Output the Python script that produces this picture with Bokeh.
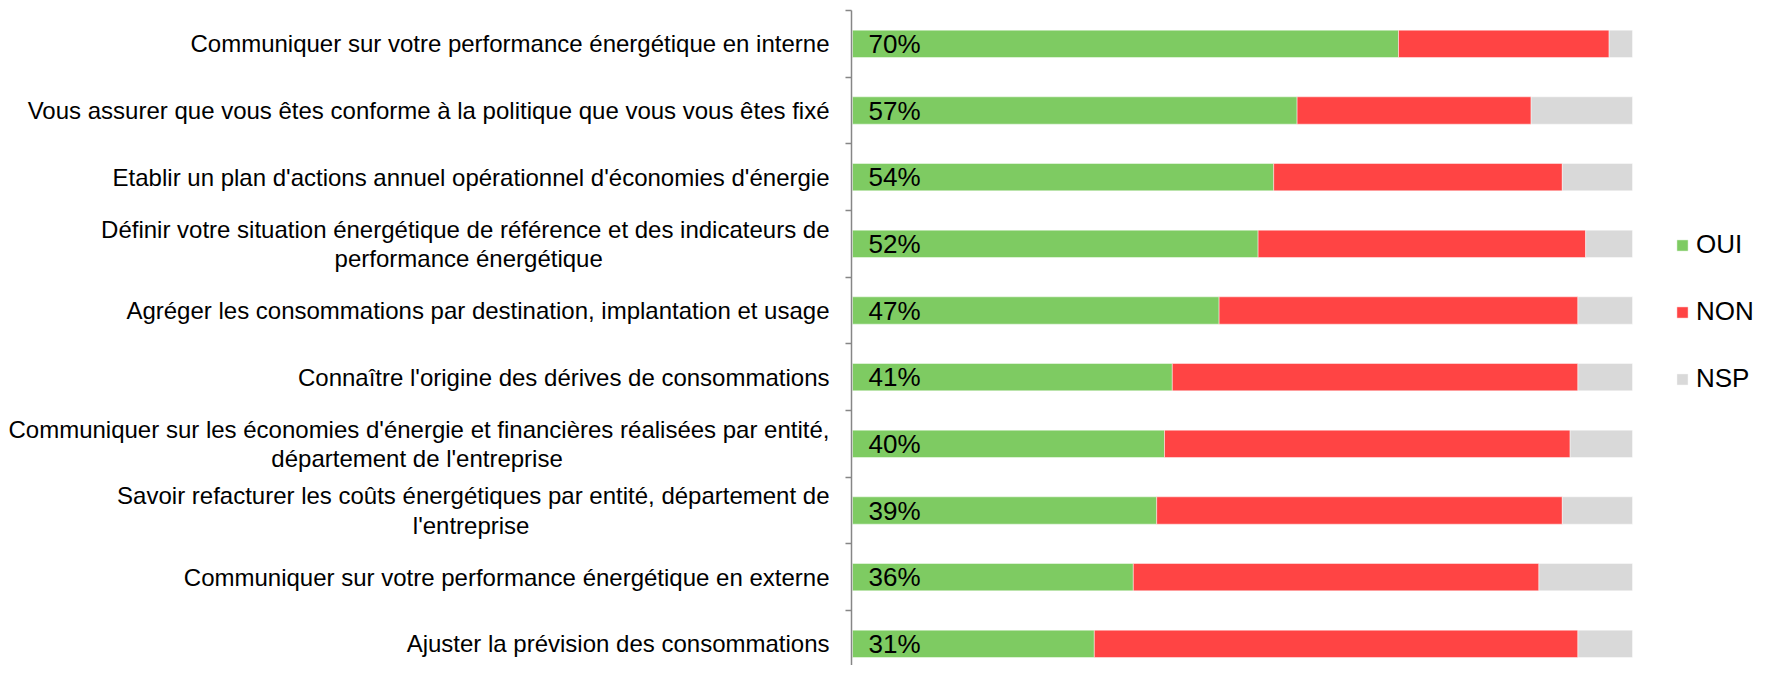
from bokeh.plotting import figure
from bokeh.models import ColumnDataSource, Range1d, FixedTicker, Legend, LegendItem
from bokeh.core.properties import value
from bokeh.embed import file_html
from bokeh.resources import INLINE

categories = [
    "Communiquer sur votre performance énergétique en interne",
    "Vous assurer que vous êtes conforme à la politique que vous vous êtes fixé",
    "Etablir un plan d'actions annuel opérationnel d'économies d'énergie",
    "Définir votre situation énergétique de référence et des indicateurs de\nperformance énergétique",
    "Agréger les consommations par destination, implantation et usage",
    "Connaître l'origine des dérives de consommations",
    "Communiquer sur les économies d'énergie et financières réalisées par entité,\ndépartement de l'entreprise",
    "Savoir refacturer les coûts énergétiques par entité, département de\nl'entreprise",
    "Communiquer sur votre performance énergétique en externe",
    "Ajuster la prévision des consommations",
]
oui = [70, 57, 54, 52, 47, 41, 40, 39, 36, 31]
non = [27, 30, 37, 42, 46, 52, 52, 52, 52, 62]
nsp = [3, 13, 9, 6, 7, 7, 8, 9, 12, 7]
series = ["OUI", "NON", "NSP"]
colors = ["#7ECB62", "#FF4444", "#D9D9D9"]

FONT = "Liberation Sans"
LABEL_PX = 24

# Arial / Liberation Sans advance widths (1/1000 em); used to centre the lines of
# two-line labels (the axis right-aligns them), padding with no-break spaces.
_W = {c: 556 for c in "abdeghnopqu\u00e9\u00e8\u00ea\u00eb\u00e0\u00e2\u00fb\u00f9\u00f4"}
_W.update({c: 500 for c in "cksvxyz\u00e7"})
_W.update({"f": 278, "t": 278, "i": 222, "j": 222, "l": 222, "m": 833, "r": 333, "w": 722,
           "\u00ee": 278, "\u00ef": 278, " ": 278, "\u00a0": 278, ",": 278, "'": 191, ".": 278,
           "C": 722, "D": 722, "S": 667, "A": 667, "E": 667, "V": 667, "N": 722,
           "O": 778, "U": 722, "I": 278, "P": 667})


def text_width(s):
    return sum(_W.get(ch, 556) for ch in s)


def centre_lines(label):
    lines = label.split("\n")
    if len(lines) == 1:
        return label
    wmax = max(text_width(l) for l in lines)
    out = []
    for l in lines:
        n = int(round((wmax - text_width(l)) / 2.0 / _W["\u00a0"]))
        out.append(l + "\u00a0" * n)
    return "\n".join(out)


ypos = list(range(len(categories)))
source = ColumnDataSource(dict(
    y=ypos, OUI=oui, NON=non, NSP=nsp,
    lbl=[f"{v}%" for v in oui],
    zero=[0] * len(oui),
))

p = figure(width=1765, height=665, output_backend="svg", toolbar_location=None,
           x_range=Range1d(-0.13, 117.05), y_range=Range1d(9.325, -0.5),
           min_border_left=851, min_border_right=0, min_border_top=10, min_border_bottom=0)

renderers = p.hbar_stack(series, y="y", height=0.41, color=colors, source=source,
                         line_color="white", line_alpha=0.45, line_width=1)

p.text(x="zero", y="y", text="lbl", source=source, x_offset=16,
       text_baseline="middle", text_align="left", text_font=value(FONT),
       text_font_size="26px", text_color="#000000")

legend = Legend(items=[LegendItem(label=s, renderers=[r]) for s, r in zip(series, renderers)],
                location=(824, 271), orientation="vertical",
                label_text_font=FONT, label_text_font_size="26px", label_text_color="#000000",
                glyph_width=14, glyph_height=14, label_standoff=7, spacing=36,
                padding=0, margin=0, border_line_color=None, background_fill_alpha=0)
p.add_layout(legend)

p.xaxis.visible = False
p.xgrid.visible = False
p.ygrid.visible = False
p.outline_line_color = None

ax = p.yaxis[0]
boundaries = [i - 0.5 for i in range(len(categories) + 1)]
ax.ticker = FixedTicker(ticks=ypos, minor_ticks=boundaries)
ax.major_label_overrides = {i: centre_lines(c) for i, c in zip(ypos, categories)}
ax.major_tick_line_color = None
ax.major_tick_out = 0
ax.major_tick_in = 0
ax.minor_tick_line_color = "#868686"
ax.minor_tick_out = 6
ax.minor_tick_in = 0
ax.minor_tick_line_width = 1.5
ax.axis_line_color = "#868686"
ax.axis_line_width = 1.5
ax.major_label_standoff = 16
ax.major_label_text_font = FONT
ax.major_label_text_font_size = f"{LABEL_PX}px"
ax.major_label_text_line_height = 1.08
ax.major_label_text_color = "#000000"

open("out.html", "w").write(file_html(p, INLINE))
